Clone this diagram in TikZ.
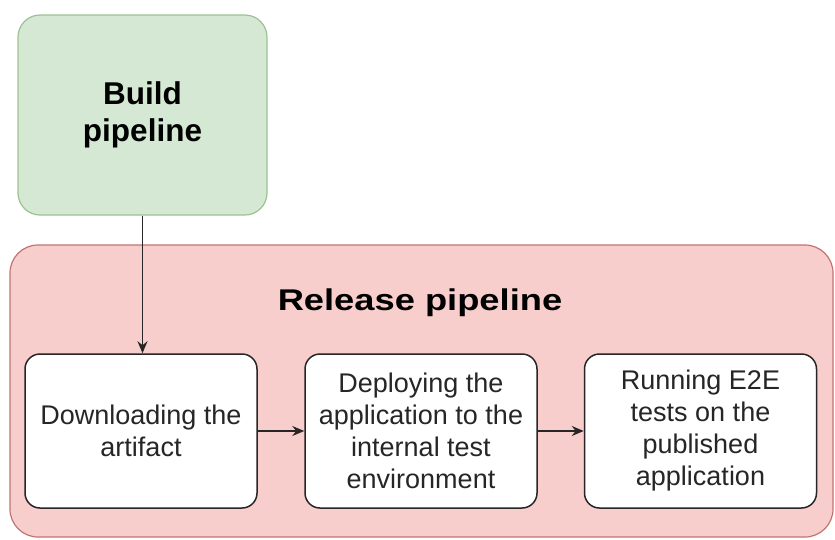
\documentclass[tikz,border=0pt]{standalone}
\usepackage{fontspec}
\setmainfont{Liberation Sans}
\usepackage{graphicx}
\usetikzlibrary{arrows.meta}
\definecolor{gfill}{HTML}{D5E8D4}
\definecolor{gdraw}{HTML}{9CC290}
\definecolor{rfill}{HTML}{F8CECC}
\definecolor{rdraw}{HTML}{C07470}
\definecolor{ink}{HTML}{262626}
\tikzset{
  stepbox/.style={draw=ink, fill=white, rounded corners=15pt, line width=1.5pt,
    minimum width=232pt, minimum height=154pt, inner sep=0pt, align=center,
    font=\fontsize{27}{32}\selectfont, text=ink},
  flow/.style={-{Stealth[length=12pt,width=10pt]}, line width=1.6pt, draw=ink},
  groupbox/.style={inner sep=0pt, line width=1.2pt}
}
\begin{document}
\begin{tikzpicture}[x=1pt,y=-1pt]
\useasboundingbox (0,0) rectangle (835,539);
\node[groupbox, draw=gdraw, fill=gfill, rounded corners=22pt, minimum width=249pt,
  minimum height=200pt, align=center, font=\bfseries\fontsize{31.5}{37}\selectfont]
  (build) at (142.5,115) {Build\\pipeline};
\node[groupbox, draw=rdraw, fill=rfill, rounded corners=28pt, minimum width=823pt,
  minimum height=292pt] (release) at (421.5,391) {};
\node[anchor=base, inner sep=0pt, font=\bfseries\fontsize{30}{36}\selectfont]
  (title) at (420,310) {\scalebox{1.21}[1]{Release pipeline}};
\node[stepbox] (s1) at (141,431) {Downloading the\\artifact};
\node[stepbox] (s2) at (421,431) {Deploying the\\application to the\\internal test\\environment};
\node[stepbox] (s3) at (700.5,431) {Running E2E\\tests on the\\published\\application};
\draw[flow] (build.south) -- (build.south |- s1.north);
\draw[flow] (s1) -- (s2);
\draw[flow] (s2) -- (s3);
\end{tikzpicture}
\end{document}
